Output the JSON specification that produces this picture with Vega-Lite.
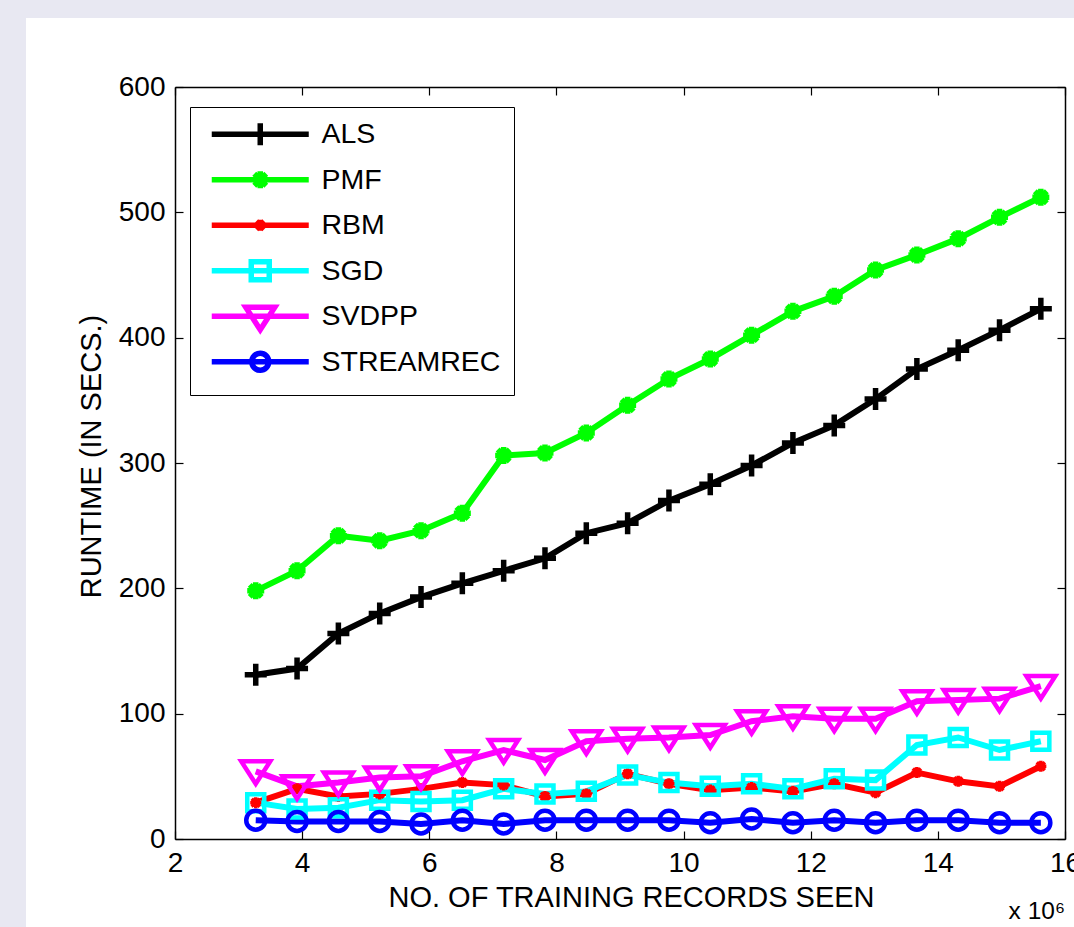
{
  "$schema": "https://vega.github.io/schema/vega-lite/v6.json",
  "width": 890,
  "height": 752,
  "autosize": "none",
  "padding": {"left": 175, "top": 87, "right": 9, "bottom": 88},
  "background": "#e8e8f2",
  "title": {"text": "x 10⁶", "orient": "bottom", "anchor": "end", "frame": "group", "fontSize": 24.5, "fontWeight": "normal", "color": "black", "font": "Liberation Sans", "offset": -27},
  "config": {
    "font": "Liberation Sans",
    "view": {"stroke": null},
    "axis": {
      "domainColor": "black", "domainWidth": 1.5,
      "tickColor": "black", "tickWidth": 1.2, "tickSize": -8,
      "labelFontSize": 28, "labelColor": "black", "labelFont": "Liberation Sans",
      "labelPadding": 18, "labelFlush": false, "labelOverlap": false,
      "titleFontSize": 29, "titleFontWeight": "normal", "titleColor": "black", "titleFont": "Liberation Sans",
      "grid": false
    },
    "point": {"filled": false, "size": 400, "strokeWidth": 4.5, "opacity": 1}
  },
  "data": {"values": [
    {"x": 3.27, "y": 131, "s": "ALS"}, {"x": 3.92, "y": 136, "s": "ALS"}, {"x": 4.57, "y": 164, "s": "ALS"}, {"x": 5.22, "y": 180, "s": "ALS"}, {"x": 5.87, "y": 193, "s": "ALS"},
    {"x": 6.52, "y": 204, "s": "ALS"}, {"x": 7.17, "y": 214, "s": "ALS"}, {"x": 7.82, "y": 224, "s": "ALS"}, {"x": 8.47, "y": 244, "s": "ALS"}, {"x": 9.12, "y": 252, "s": "ALS"},
    {"x": 9.77, "y": 270, "s": "ALS"}, {"x": 10.42, "y": 283, "s": "ALS"}, {"x": 11.07, "y": 298, "s": "ALS"}, {"x": 11.72, "y": 316, "s": "ALS"}, {"x": 12.37, "y": 330, "s": "ALS"},
    {"x": 13.02, "y": 351, "s": "ALS"}, {"x": 13.67, "y": 375, "s": "ALS"}, {"x": 14.32, "y": 390, "s": "ALS"}, {"x": 14.97, "y": 406, "s": "ALS"}, {"x": 15.62, "y": 423, "s": "ALS"},
    {"x": 3.27, "y": 198, "s": "PMF"}, {"x": 3.92, "y": 214, "s": "PMF"}, {"x": 4.57, "y": 242, "s": "PMF"}, {"x": 5.22, "y": 238, "s": "PMF"}, {"x": 5.87, "y": 246, "s": "PMF"},
    {"x": 6.52, "y": 260, "s": "PMF"}, {"x": 7.17, "y": 306, "s": "PMF"}, {"x": 7.82, "y": 308, "s": "PMF"}, {"x": 8.47, "y": 324, "s": "PMF"}, {"x": 9.12, "y": 346, "s": "PMF"},
    {"x": 9.77, "y": 367, "s": "PMF"}, {"x": 10.42, "y": 383, "s": "PMF"}, {"x": 11.07, "y": 402, "s": "PMF"}, {"x": 11.72, "y": 421, "s": "PMF"}, {"x": 12.37, "y": 433, "s": "PMF"},
    {"x": 13.02, "y": 454, "s": "PMF"}, {"x": 13.67, "y": 466, "s": "PMF"}, {"x": 14.32, "y": 479, "s": "PMF"}, {"x": 14.97, "y": 496, "s": "PMF"}, {"x": 15.62, "y": 512, "s": "PMF"},
    {"x": 3.27, "y": 29, "s": "RBM"}, {"x": 3.92, "y": 40, "s": "RBM"}, {"x": 4.57, "y": 34, "s": "RBM"}, {"x": 5.22, "y": 36, "s": "RBM"}, {"x": 5.87, "y": 40, "s": "RBM"},
    {"x": 6.52, "y": 45, "s": "RBM"}, {"x": 7.17, "y": 43, "s": "RBM"}, {"x": 7.82, "y": 34, "s": "RBM"}, {"x": 8.47, "y": 36, "s": "RBM"}, {"x": 9.12, "y": 52, "s": "RBM"},
    {"x": 9.77, "y": 44, "s": "RBM"}, {"x": 10.42, "y": 39, "s": "RBM"}, {"x": 11.07, "y": 41, "s": "RBM"}, {"x": 11.72, "y": 38, "s": "RBM"}, {"x": 12.37, "y": 44, "s": "RBM"},
    {"x": 13.02, "y": 37, "s": "RBM"}, {"x": 13.67, "y": 53, "s": "RBM"}, {"x": 14.32, "y": 46, "s": "RBM"}, {"x": 14.97, "y": 42, "s": "RBM"}, {"x": 15.62, "y": 58, "s": "RBM"},
    {"x": 3.27, "y": 29, "s": "SGD"}, {"x": 3.92, "y": 24, "s": "SGD"}, {"x": 4.57, "y": 25, "s": "SGD"}, {"x": 5.22, "y": 31, "s": "SGD"}, {"x": 5.87, "y": 30, "s": "SGD"},
    {"x": 6.52, "y": 31, "s": "SGD"}, {"x": 7.17, "y": 40, "s": "SGD"}, {"x": 7.82, "y": 36, "s": "SGD"}, {"x": 8.47, "y": 38, "s": "SGD"}, {"x": 9.12, "y": 51, "s": "SGD"},
    {"x": 9.77, "y": 45, "s": "SGD"}, {"x": 10.42, "y": 42, "s": "SGD"}, {"x": 11.07, "y": 44, "s": "SGD"}, {"x": 11.72, "y": 40, "s": "SGD"}, {"x": 12.37, "y": 48, "s": "SGD"},
    {"x": 13.02, "y": 47, "s": "SGD"}, {"x": 13.67, "y": 75, "s": "SGD"}, {"x": 14.32, "y": 81, "s": "SGD"}, {"x": 14.97, "y": 71, "s": "SGD"}, {"x": 15.62, "y": 78, "s": "SGD"},
    {"x": 3.27, "y": 54, "s": "SVDPP"}, {"x": 3.92, "y": 42, "s": "SVDPP"}, {"x": 4.57, "y": 45, "s": "SVDPP"}, {"x": 5.22, "y": 49, "s": "SVDPP"}, {"x": 5.87, "y": 50, "s": "SVDPP"},
    {"x": 6.52, "y": 62, "s": "SVDPP"}, {"x": 7.17, "y": 71, "s": "SVDPP"}, {"x": 7.82, "y": 63, "s": "SVDPP"}, {"x": 8.47, "y": 78, "s": "SVDPP"}, {"x": 9.12, "y": 80, "s": "SVDPP"},
    {"x": 9.77, "y": 81, "s": "SVDPP"}, {"x": 10.42, "y": 83, "s": "SVDPP"}, {"x": 11.07, "y": 94, "s": "SVDPP"}, {"x": 11.72, "y": 98, "s": "SVDPP"}, {"x": 12.37, "y": 96, "s": "SVDPP"},
    {"x": 13.02, "y": 96, "s": "SVDPP"}, {"x": 13.67, "y": 110, "s": "SVDPP"}, {"x": 14.32, "y": 111, "s": "SVDPP"}, {"x": 14.97, "y": 112, "s": "SVDPP"}, {"x": 15.62, "y": 122, "s": "SVDPP"},
    {"x": 3.27, "y": 15, "s": "STREAMREC"}, {"x": 3.92, "y": 14, "s": "STREAMREC"}, {"x": 4.57, "y": 14, "s": "STREAMREC"}, {"x": 5.22, "y": 14, "s": "STREAMREC"}, {"x": 5.87, "y": 12, "s": "STREAMREC"},
    {"x": 6.52, "y": 15, "s": "STREAMREC"}, {"x": 7.17, "y": 12, "s": "STREAMREC"}, {"x": 7.82, "y": 15, "s": "STREAMREC"}, {"x": 8.47, "y": 15, "s": "STREAMREC"}, {"x": 9.12, "y": 15, "s": "STREAMREC"},
    {"x": 9.77, "y": 15, "s": "STREAMREC"}, {"x": 10.42, "y": 13, "s": "STREAMREC"}, {"x": 11.07, "y": 16, "s": "STREAMREC"}, {"x": 11.72, "y": 13, "s": "STREAMREC"}, {"x": 12.37, "y": 15, "s": "STREAMREC"},
    {"x": 13.02, "y": 13, "s": "STREAMREC"}, {"x": 13.67, "y": 15, "s": "STREAMREC"}, {"x": 14.32, "y": 15, "s": "STREAMREC"}, {"x": 14.97, "y": 13, "s": "STREAMREC"}, {"x": 15.62, "y": 13, "s": "STREAMREC"}
  ]},
  "resolve": {"axis": {"x": "independent", "y": "independent"}},
  "layer": [
    {
      "data": {"values": [{}]},
      "mark": {"type": "rect", "color": "white", "clip": false},
      "encoding": {
        "x": {"datum": -0.344, "type": "quantitative", "scale": {"domain": [2, 16], "nice": false, "zero": false}, "axis": null},
        "x2": {"datum": 16.15},
        "y": {"datum": 655.05, "type": "quantitative", "scale": {"domain": [0, 600], "nice": false, "zero": false}, "axis": null},
        "y2": {"datum": -70.2}
      }
    },
    {
      "mark": {"type": "line", "strokeWidth": 6},
      "encoding": {
        "x": {"field": "x", "type": "quantitative",
              "axis": {"orient": "bottom", "zindex": 1, "values": [2, 4, 6, 8, 10, 12, 14, 16], "title": "NO. OF TRAINING RECORDS SEEN", "titlePadding": 6, "titleX": 456}},
        "y": {"field": "y", "type": "quantitative",
              "axis": {"orient": "left", "zindex": 1, "values": [0, 100, 200, 300, 400, 500, 600], "title": "RUNTIME (IN SECS.)", "titlePadding": 12, "titleY": 369}},
        "color": {"field": "s", "type": "nominal",
          "scale": {"domain": ["ALS", "PMF", "RBM", "SGD", "SVDPP", "STREAMREC"], "range": ["#000000", "#00ff00", "#ff0000", "#00ffff", "#ff00ff", "#0000ff"]},
          "legend": {
            "orient": "none", "legendX": 15, "legendY": 20, "title": null,
            "labelFontSize": 28.5, "labelColor": "black", "labelFont": "Liberation Sans", "labelLimit": 400,
            "symbolSize": 400, "symbolStrokeWidth": 5.5, "symbolOffset": 43, "labelOffset": 47,
            "rowPadding": 0.5, "gridAlign": "all", "padding": 13, "strokeColor": "black", "fillColor": "white",
            "encode": {"symbols": {"update": {
              "fill": {"value": "transparent"},
              "shape": {"signal": "datum.value === 'ALS' ? 'M-4.85,0H4.85M0,-1.1V1.1' : datum.value === 'PMF' ? 'M-4.85,0H4.85M0,-0.85V0.85M-0.6,-0.6L0.6,0.6M-0.6,0.6L0.6,-0.6' : datum.value === 'RBM' ? 'M-4.85,0H4.85M0,-0.55V0.55M-0.4,-0.4L0.4,0.4M-0.4,0.4L0.4,-0.4' : datum.value === 'SGD' ? 'M-4.85,0H4.85M-0.9,-0.9H0.9V0.9H-0.9Z' : datum.value === 'SVDPP' ? 'M-4.85,0H4.85M-1.45,-0.9H1.45L0,1.35Z' : 'M-4.85,0H4.85M0.85,0A0.85,0.85 0 1,1 -0.85,0A0.85,0.85 0 1,1 0.85,0'"}
            }}}
          }
        }
      }
    },
    {
      "transform": [{"filter": "datum.s === 'ALS'"}],
      "mark": {"type": "point", "color": "#000000", "strokeWidth": 5.5, "shape": "M-1.1,0H1.1M0,-1.1V1.1"},
      "encoding": {
        "x": {"field": "x", "type": "quantitative",
              "axis": {"orient": "top", "zindex": 1, "values": [2, 4, 6, 8, 10, 12, 14, 16], "labels": false, "title": null}},
        "y": {"field": "y", "type": "quantitative",
              "axis": {"orient": "right", "zindex": 1, "values": [0, 100, 200, 300, 400, 500, 600], "labels": false, "title": null}}
      }
    },
    {
      "transform": [{"filter": "datum.s === 'PMF'"}],
      "mark": {"type": "point", "color": "#00ff00", "strokeWidth": 5.5, "shape": "M-0.85,0H0.85M0,-0.85V0.85M-0.6,-0.6L0.6,0.6M-0.6,0.6L0.6,-0.6"},
      "encoding": {"x": {"field": "x", "type": "quantitative", "axis": null}, "y": {"field": "y", "type": "quantitative", "axis": null}}
    },
    {
      "transform": [{"filter": "datum.s === 'RBM'"}],
      "mark": {"type": "point", "color": "#ff0000", "strokeWidth": 3.5, "shape": "M-0.55,0H0.55M0,-0.55V0.55M-0.4,-0.4L0.4,0.4M-0.4,0.4L0.4,-0.4"},
      "encoding": {"x": {"field": "x", "type": "quantitative", "axis": null}, "y": {"field": "y", "type": "quantitative", "axis": null}}
    },
    {
      "transform": [{"filter": "datum.s === 'SGD'"}],
      "mark": {"type": "point", "color": "#00ffff", "shape": "M-0.85,-0.85H0.85V0.85H-0.85Z"},
      "encoding": {"x": {"field": "x", "type": "quantitative", "axis": null}, "y": {"field": "y", "type": "quantitative", "axis": null}}
    },
    {
      "transform": [{"filter": "datum.s === 'SVDPP'"}],
      "mark": {"type": "point", "color": "#ff00ff", "shape": "M-1.45,-1H1.45L0,1.25Z"},
      "encoding": {"x": {"field": "x", "type": "quantitative", "axis": null}, "y": {"field": "y", "type": "quantitative", "axis": null}}
    },
    {
      "transform": [{"filter": "datum.s === 'STREAMREC'"}],
      "mark": {"type": "point", "color": "#0000ff", "shape": "M0.95,0A0.95,0.95 0 1,1 -0.95,0A0.95,0.95 0 1,1 0.95,0"},
      "encoding": {"x": {"field": "x", "type": "quantitative", "axis": null}, "y": {"field": "y", "type": "quantitative", "axis": null}}
    }
  ]
}
